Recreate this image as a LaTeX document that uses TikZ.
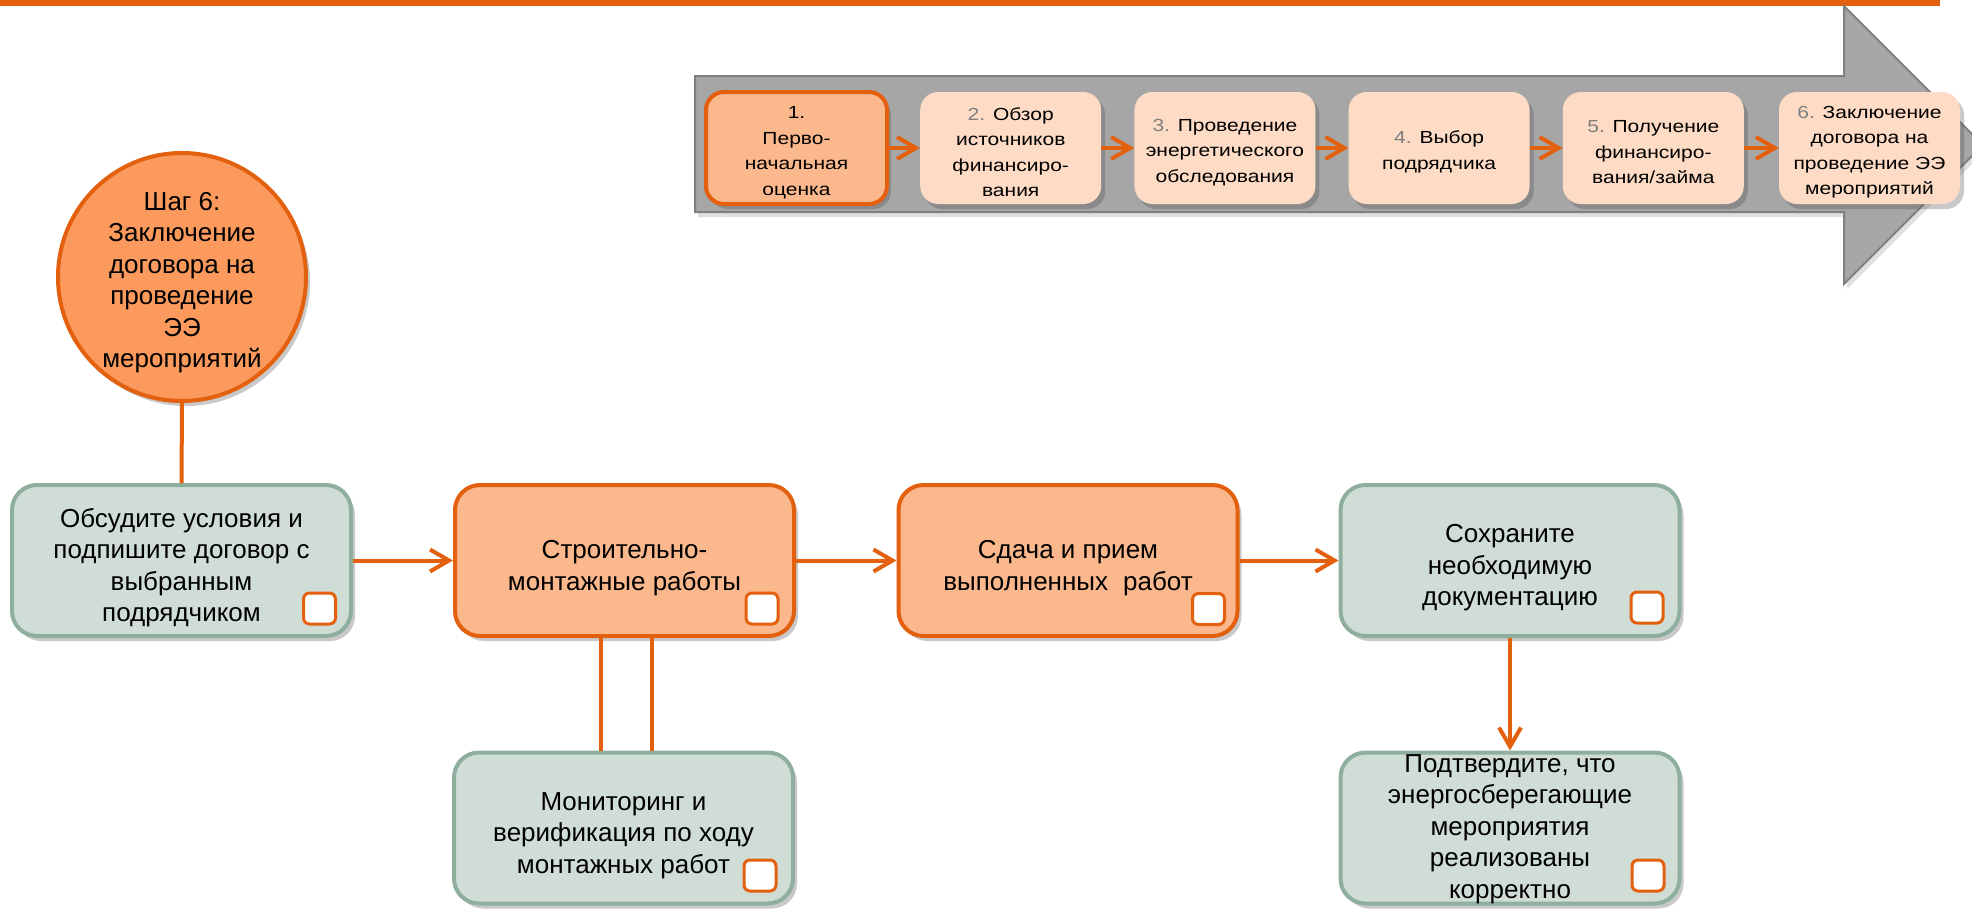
\documentclass[tikz,border=0pt]{standalone}
\usepackage{fontspec}
\setmainfont{Liberation Sans}
\newfontfamily\panelfont[FakeStretch=1.2]{Liberation Sans}
\usetikzlibrary{arrows.meta,shadows,calc}

\definecolor{orline}{HTML}{E2600E}
\definecolor{orcircle}{HTML}{FB9A5C}
\definecolor{orbox}{HTML}{FBB88C}
\definecolor{peach}{HTML}{FDDBC5}
\definecolor{greyfill}{HTML}{D0DDD7}
\definecolor{greyedge}{HTML}{8EAF9D}
\definecolor{arrowfill}{HTML}{A6A6A6}
\definecolor{arrowedge}{HTML}{808080}
\definecolor{numgrey}{HTML}{7F7F7F}

% first-line struts that set the text block a little lower in its shape
\newcommand\boxstrut{\rule{0pt}{33pt}}
\newcommand\ringstrut{\rule{0pt}{29pt}}
\newcommand\stagestrut{\rule{0pt}{21pt}}

\tikzset{
  shade/.style={drop shadow={shadow xshift=4pt,shadow yshift=-5pt,opacity=0.3,fill=black!70}},
  bigtext/.style={align=center, inner sep=0pt, font=\fontsize{26}{31.5}\selectfont},
  bigbox/.style={bigtext, rounded corners=25pt, minimum width=339pt, minimum height=151pt,
    line width=4pt, shade},
  orangebox/.style={bigbox, fill=orbox, draw=orline},
  greenbox/.style={bigbox, fill=greyfill, draw=greyedge},
  tick/.style={rounded corners=6pt, minimum width=32pt, minimum height=31pt,
    fill=white, draw=orline, line width=3pt, inner sep=0pt},
  stage/.style={rounded corners=18pt, minimum width=181pt, minimum height=112pt,
    fill=peach, align=center, inner sep=0pt, shade,
    font=\panelfont\fontsize{17.5}{25.5}\selectfont},
  link/.style={draw=orline, line width=4pt},
  flow/.style={link, -{Straight Barb[length=19pt,width=22pt]}}
}

\begin{document}
\begin{tikzpicture}[x=1pt,y=-1pt]
\useasboundingbox (0,0) rectangle (1972,910);

% top rule
\fill[orline] (0,0) rectangle (1940,6);

% big grey process arrow
\filldraw[fill=arrowfill, draw=arrowedge, line width=2pt,
  drop shadow={shadow xshift=3pt,shadow yshift=-5pt,opacity=0.2,fill=black!60}]
  (695,76) -- (1844,76) -- (1844,6) -- (1983,145) -- (1844,284) -- (1844,212) -- (695,212) -- cycle;

% stages on the arrow
\node[stage, fill=orbox, draw=orline, line width=4pt] (s1) at (796.5,148) {\stagestrut 1.\\Перво-\\начальная\\оценка};
\node[stage] (s2) at (1010.7,148) {\stagestrut{\color{numgrey}2.} Обзор\\источников\\финансиро-\\вания};
\node[stage] (s3) at (1224.9,148) {\stagestrut{\color{numgrey}3.} Проведение\\энергетического\\обследования};
\node[stage] (s4) at (1439.1,148) {\stagestrut{\color{numgrey}4.} Выбор\\подрядчика};
\node[stage] (s5) at (1653.3,148) {\stagestrut{\color{numgrey}5.} Получение\\финансиро-\\вания/займа};
\node[stage] (s6) at (1869.5,148) {\stagestrut{\color{numgrey}6.} Заключение\\договора на\\проведение ЭЭ\\мероприятий};

\foreach \a/\b in {s1/s2,s2/s3,s3/s4,s4/s5,s5/s6}
  \draw[flow] (\a.east) -- (\b.west);

% step circle (text set separately so the circle keeps its size)
\node[circle, minimum size=248pt, fill=orcircle, draw=orline, line width=4pt,
  inner sep=0pt, shade] (step) at (182,277) {};
\node[bigtext] (steptext) at (step.center)
  {\ringstrut Шаг 6:\\Заключение\\договора на\\проведение\\ЭЭ\\мероприятий};

% main flow boxes
\node[greenbox] (b1) at (181.5,560.5) {\boxstrut Обсудите условия и\\подпишите договор с\\выбранным\\подрядчиком};
\node[orangebox] (b2) at (624.5,560.5) {\boxstrut Строительно-\\монтажные работы};
\node[orangebox] (b3) at (1068,560.5) {\boxstrut Сдача и прием\\выполненных\hspace{0.3em} работ};
\node[greenbox] (b4) at (1510,560.5) {\boxstrut Сохраните\\необходимую\\документацию};
\node[greenbox] (mon) at (623.5,828) {\boxstrut Мониторинг и\\верификация по ходу\\монтажных работ};
\node[greenbox] (b5) at (1510,828) {};
\node[bigtext] (b5text) at (b5.center)
  {\rule{0pt}{20pt}Подтвердите, что\\энергосберегающие\\мероприятия\\реализованы\\корректно};

% check boxes
\node[tick] (c1) at (319.5,608.5) {};
\node[tick] (c2) at (762,608.5) {};
\node[tick] (c3) at (1208.5,609) {};
\node[tick] (c4) at (1647,607.5) {};
\node[tick] (c5) at (760,875.5) {};
\node[tick] (c6) at (1648,875.5) {};

% connectors
\draw[link] (step.south) -- (b1.north);
\draw[flow] (b1.east) -- (b2.west);
\draw[flow] (b2.east) -- (b3.west);
\draw[flow] (b3.east) -- (b4.west);
\draw[flow] (b4.south) -- (b5.north);
\draw[link] ([xshift=-24pt]b2.south) -- ([xshift=-24pt]b2.south |- mon.north);
\draw[link] ([xshift=27pt]b2.south) -- ([xshift=27pt]b2.south |- mon.north);
\end{tikzpicture}
\end{document}
